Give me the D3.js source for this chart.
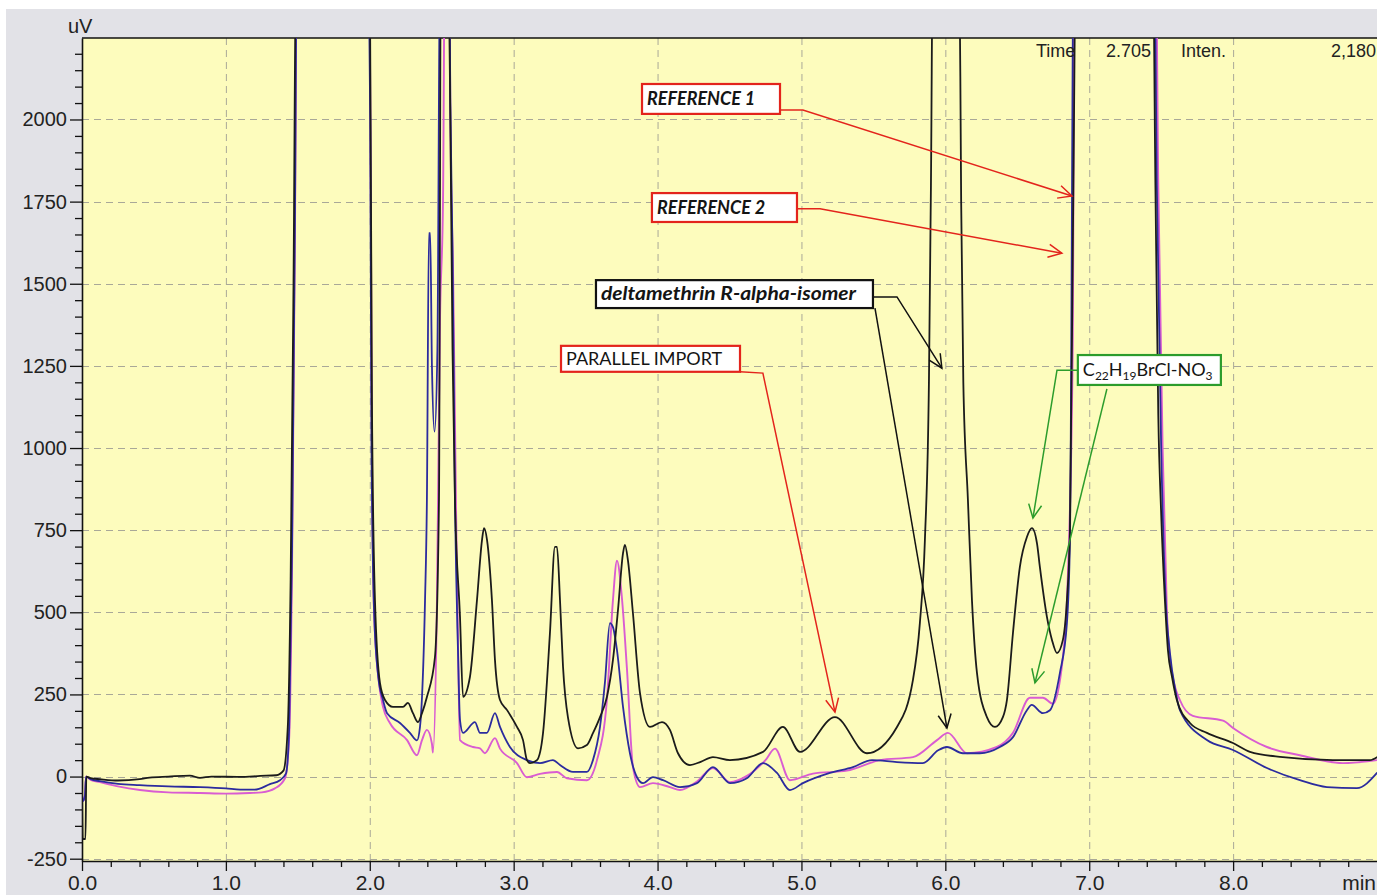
<!DOCTYPE html>
<html><head><meta charset="utf-8">
<script src="https://cdn.jsdelivr.net/npm/d3@7"></script>
<style>
html,body{margin:0;padding:0;background:#fff;}
svg{display:block;}
</style></head><body>
<svg id="chart" width="1377" height="895"></svg>
<script>
// Chromatogram traces: [retention time (min), signal (uV)]
const parallelImport = [
 [0.000,-40],[0.005,-190],[0.024,-190],[0.030,0],[0.060,-5],[0.125,-8],[0.250,-12],[0.400,-8],[0.470,-3],[0.600,0],[0.750,3],[0.820,-4],[0.900,0],[1.100,-1],[1.240,2],[1.350,4],[1.400,18],[1.430,150],[1.450,600],[1.470,1500],[1.490,2600],[1.990,2600],[2.001,2400],[2.015,1140],[2.036,537],[2.071,284],[2.106,233],[2.161,212],[2.231,212],[2.265,224],[2.300,193],[2.335,166],[2.363,193],[2.397,242],[2.453,364],[2.481,842],[2.495,2600],[2.540,2600],[2.560,2000],[2.575,1300],[2.592,842],[2.627,486],[2.648,243],[2.696,303],[2.745,537],[2.780,720],[2.794,756],[2.815,720],[2.849,537],[2.870,355],[2.905,233],[2.953,203],[3.023,151],[3.065,111],[3.092,50],[3.113,41],[3.162,50],[3.204,132],[3.252,436],[3.287,699],[3.301,699],[3.322,537],[3.343,334],[3.377,181],[3.447,86],[3.509,96],[3.551,132],[3.600,181],[3.648,242],[3.690,355],[3.725,507],[3.760,680],[3.773,705],[3.794,659],[3.829,497],[3.878,254],[3.947,151],[4.031,166],[4.086,142],[4.142,71],[4.225,35],[4.300,45],[4.385,59],[4.503,50],[4.733,75],[4.871,151],[4.990,75],[5.233,181],[5.455,71],[5.664,151],[5.775,294],[5.823,467],[5.858,720],[5.886,1200],[5.900,1800],[5.915,2600],[6.095,2600],[6.110,1750],[6.125,1200],[6.157,842],[6.185,537],[6.220,315],[6.289,181],[6.345,151],[6.400,181],[6.428,233],[6.470,437],[6.518,638],[6.567,729],[6.602,756],[6.637,710],[6.657,638],[6.706,486],[6.741,416],[6.776,376],[6.817,416],[6.845,537],[6.866,750],[6.890,1800],[6.910,2600],[7.440,2600],[7.460,1800],[7.480,1100],[7.500,800],[7.526,537],[7.547,385],[7.575,304],[7.609,233],[7.700,163],[7.818,133],[7.999,102],[8.117,75],[8.346,59],[8.693,50],[8.951,50],[9.000,59]
];
const reference1 = [
 [0.000,-50],[0.005,-75],[0.020,-60],[0.028,0],[0.060,-8],[0.125,-14],[0.250,-22],[0.400,-26],[0.600,-30],[0.820,-32],[1.000,-36],[1.100,-40],[1.200,-40],[1.306,-23],[1.376,-11],[1.418,10],[1.440,150],[1.460,700],[1.480,1700],[1.495,2600],[1.990,2600],[2.003,2000],[2.012,1000],[2.030,500],[2.060,300],[2.092,233],[2.120,193],[2.210,163],[2.279,133],[2.328,110],[2.349,151],[2.363,242],[2.384,537],[2.397,842],[2.411,1654],[2.420,1654],[2.432,1250],[2.450,1050],[2.470,1300],[2.490,2600],[2.550,2600],[2.560,2050],[2.575,1600],[2.592,842],[2.613,385],[2.627,172],[2.648,133],[2.731,166],[2.766,133],[2.814,133],[2.870,193],[2.905,151],[2.974,90],[3.092,50],[3.183,41],[3.273,50],[3.322,35],[3.412,14],[3.509,14],[3.551,50],[3.600,151],[3.634,285],[3.669,467],[3.690,455],[3.718,385],[3.760,212],[3.808,71],[3.857,-2],[3.899,-20],[3.968,-2],[4.038,-11],[4.156,-32],[4.274,-20],[4.385,29],[4.503,-20],[4.621,-5],[4.733,41],[4.830,11],[4.920,-41],[5.010,-20],[5.198,11],[5.358,29],[5.490,50],[5.664,44],[5.844,41],[5.950,80],[6.011,90],[6.122,71],[6.240,71],[6.379,90],[6.470,120],[6.567,202],[6.600,218],[6.678,193],[6.727,202],[6.796,315],[6.845,467],[6.866,720],[6.894,2600],[7.450,2600],[7.470,1800],[7.500,1000],[7.530,550],[7.560,380],[7.600,260],[7.630,202],[7.818,111],[7.999,81],[8.235,26],[8.464,-11],[8.652,-32],[8.860,-35],[9.000,11]
];
const reference2 = [
 [0.000,-50],[0.005,-75],[0.020,-60],[0.028,0],[0.060,-10],[0.125,-17],[0.250,-30],[0.403,-41],[0.600,-48],[0.820,-50],[1.000,-52],[1.167,-50],[1.250,-48],[1.341,-36],[1.411,-5],[1.440,120],[1.460,650],[1.480,1650],[1.495,2600],[1.990,2600],[2.005,1970],[2.015,1000],[2.030,500],[2.060,300],[2.092,212],[2.140,163],[2.259,111],[2.328,65],[2.363,111],[2.397,142],[2.432,100],[2.439,73],[2.467,537],[2.488,1390],[2.509,1755],[2.523,2600],[2.550,2600],[2.560,2000],[2.580,1500],[2.600,800],[2.615,350],[2.627,111],[2.717,90],[2.766,86],[2.800,71],[2.870,117],[2.905,85],[3.023,41],[3.092,-2],[3.183,8],[3.301,14],[3.370,-5],[3.509,-11],[3.579,50],[3.648,233],[3.690,537],[3.718,657],[3.752,545],[3.787,330],[3.829,29],[3.878,-32],[3.968,-20],[4.086,-32],[4.156,-41],[4.274,-15],[4.385,26],[4.503,-17],[4.621,2],[4.750,50],[4.816,85],[4.920,-11],[5.080,9],[5.316,18],[5.546,50],[5.775,59],[5.942,111],[6.018,133],[6.150,71],[6.358,90],[6.470,133],[6.588,240],[6.678,240],[6.748,222],[6.817,363],[6.852,617],[6.885,1300],[6.900,2600],[7.460,2600],[7.480,1800],[7.510,1000],[7.540,500],[7.570,330],[7.630,233],[7.720,185],[7.930,170],[7.999,148],[8.235,90],[8.464,65],[8.763,41],[9.000,50]
];

// Axis ticks
const timeTicks = [0,1,2,3,4,5,6,7,8];
const signalTicks = [-250,0,250,500,750,1000,1250,1500,1750,2000];

// Cursor read-out shown at the top of the plot
const readout = {timeLabel:"Time", time:"2.705", intenLabel:"Inten.", inten:"2,180"};

// Call-out boxes: box corners and leader lines in data units (min, uV)
const callouts = [
 {text:"REFERENCE 1", kind:"ref", color:"#e3241c", box:[3.892,2108,4.851,2017],
  leaders:[[[4.851,2029],[5.010,2029],[6.880,1767]]]},
 {text:"REFERENCE 2", kind:"ref", color:"#e3241c", box:[3.961,1776,4.969,1688],
  leaders:[[[4.969,1728],[5.129,1728],[6.810,1593]]]},
 {text:"deltamethrin R-alpha-isomer", kind:"ref", color:"#111111", box:[3.572,1511,5.497,1426], span:255,
  leaders:[[[5.497,1460],[5.664,1460],[5.976,1243]],[[5.511,1426],[6.011,148]]]},
 {text:"PARALLEL IMPORT", kind:"plain", color:"#e3241c", box:[3.329,1311,4.573,1232],
  leaders:[[[4.573,1232],[4.732,1228],[5.233,196]]]},
 {text:"formula", kind:"formula", color:"#2c9c2c", box:[6.921,1283,7.915,1192],
  leaders:[[[6.921,1237],[6.776,1237],[6.609,787]],[[7.123,1180],[6.623,285]]]}
];

const W = 1377, H = 895;
const svg = d3.select("#chart");

// window frame
svg.append("rect").attr("width", W).attr("height", H).attr("fill", "#ffffff");
svg.append("rect").attr("x", 6).attr("y", 9).attr("width", W - 6).attr("height", H - 9).attr("fill", "#e2e2e7");

const x = d3.scaleLinear().domain([0, 9]).range([82, 1377]);
const y = d3.scaleLinear().domain([-257, 2248]).range([861, 38]);

const [x0, x1] = x.range();
const [y0, y1] = y.range();

svg.append("rect").attr("x", x0).attr("y", y1).attr("width", x1 - x0).attr("height", y0 - y1).attr("fill", "#fdfcbd");

svg.append("clipPath").attr("id", "plotClip")
  .append("rect").attr("x", x0).attr("y", y1).attr("width", x1 - x0).attr("height", y0 - y1);

// dashed grid
const grid = svg.append("g").attr("stroke", "#a9a898").attr("stroke-width", 1).attr("stroke-dasharray", "7,5");
grid.selectAll("line.v").data(timeTicks.filter(d => d > 0)).join("line")
  .attr("x1", d => x(d) + 0.5).attr("x2", d => x(d) + 0.5).attr("y1", y1).attr("y2", y0);
grid.selectAll("line.h").data(signalTicks).join("line")
  .attr("x1", x0).attr("x2", x1).attr("y1", d => Math.round(y(d)) + 0.5).attr("y2", d => Math.round(y(d)) + 0.5);

// minor ticks
const minorY = d3.range(-250, 2201, 50).filter(d => d % 250 !== 0);
const minorX = d3.range(0, 9.01, 0.2).filter(d => Math.abs(d - Math.round(d)) > 1e-6);

const fontAxis = "'Liberation Sans', Arial, sans-serif";

const yAxis = svg.append("g").attr("transform", `translate(${x0},0)`)
  .call(d3.axisLeft(y).tickValues(signalTicks).tickSize(12).tickSizeOuter(0).tickPadding(3).tickFormat(d => String(d)));
svg.append("g").attr("transform", `translate(${x0},0)`)
  .call(d3.axisLeft(y).tickValues(minorY).tickSize(7).tickSizeOuter(0).tickFormat(""))
  .call(g => g.select(".domain").remove());

const xAxis = svg.append("g").attr("transform", `translate(0,${y0})`)
  .call(d3.axisBottom(x).tickValues(timeTicks).tickSize(10).tickSizeOuter(0).tickPadding(4).tickFormat(d3.format(".1f")));
svg.append("g").attr("transform", `translate(0,${y0})`)
  .call(d3.axisBottom(x).tickValues(minorX).tickSize(6).tickSizeOuter(0).tickFormat(""))
  .call(g => g.select(".domain").remove());

svg.selectAll(".tick line").attr("stroke", "#111").attr("stroke-width", 1.3);
svg.selectAll(".domain").attr("stroke", "#111").attr("stroke-width", 1.6);
yAxis.selectAll("text").attr("font-family", fontAxis).attr("font-size", 20).attr("fill", "#222");
xAxis.selectAll("text").attr("font-family", fontAxis).attr("font-size", 21).attr("fill", "#222");

// top border of the plot
svg.append("line").attr("x1", x0).attr("x2", x1).attr("y1", y1).attr("y2", y1)
  .attr("stroke", "#111").attr("stroke-width", 1.6);

svg.append("text").attr("x", 68).attr("y", 33).text("uV")
  .attr("font-family", fontAxis).attr("font-size", 20).attr("fill", "#222");
svg.append("text").attr("x", 1376).attr("y", 890).attr("text-anchor", "end").text("min")
  .attr("font-family", fontAxis).attr("font-size", 21).attr("fill", "#222");

// traces
const line = d3.line().curve(d3.curveMonotoneX).x(d => x(d[0])).y(d => y(d[1]));
const traces = svg.append("g").attr("clip-path", "url(#plotClip)").attr("fill", "none")
  .attr("stroke-linejoin", "round").attr("stroke-linecap", "round");
[[reference2, "#d95cd2", 1.9], [reference1, "#2b2b9e", 1.8], [parallelImport, "#1b1b1b", 1.8]]
  .forEach(([data, color, w]) => traces.append("path").datum(data).attr("d", line)
    .attr("stroke", color).attr("stroke-width", w));

// read-out text
const ro = svg.append("g").attr("font-family", fontAxis).attr("font-size", 18).attr("fill", "#222");
ro.append("text").attr("x", 1036).attr("y", 57).text(readout.timeLabel);
ro.append("text").attr("x", 1106).attr("y", 57).text(readout.time);
ro.append("text").attr("x", 1181).attr("y", 57).text(readout.intenLabel);
ro.append("text").attr("x", 1376).attr("y", 57).attr("text-anchor", "end").text(readout.inten);

// call-outs
const calloutFont = "Lato, 'Open Sans', sans-serif";
const ann = svg.append("g");
function arrowHead(g, p0, p1, color) {
  const ang = Math.atan2(p1[1] - p0[1], p1[0] - p0[0]);
  const len = 15, spread = 0.45;
  const a = [p1[0] - len * Math.cos(ang - spread), p1[1] - len * Math.sin(ang - spread)];
  const b = [p1[0] - len * Math.cos(ang + spread), p1[1] - len * Math.sin(ang + spread)];
  g.append("path").attr("d", `M${a[0]},${a[1]}L${p1[0]},${p1[1]}L${b[0]},${b[1]}`)
    .attr("fill", "none").attr("stroke", color).attr("stroke-width", 1.5);
}
callouts.forEach(c => {
  const g = ann.append("g");
  c.leaders.forEach(pts => {
    const px = pts.map(p => [x(p[0]), y(p[1])]);
    g.append("path").attr("d", d3.line()(px)).attr("fill", "none")
      .attr("stroke", c.color).attr("stroke-width", 1.5);
    arrowHead(g, px[px.length - 2], px[px.length - 1], c.color);
  });
  const bx = x(c.box[0]), by = y(c.box[1]), bw = x(c.box[2]) - bx, bh = y(c.box[3]) - by;
  g.append("rect").attr("x", bx).attr("y", by).attr("width", bw).attr("height", bh)
    .attr("fill", "#ffffff").attr("stroke", c.color).attr("stroke-width", 2.2);
  const t = g.append("text").attr("x", bx + 5).attr("y", by + bh / 2 + 6)
    .attr("font-family", calloutFont).attr("fill", "#141414");
  if (c.kind === "ref") {
    t.attr("font-weight", "bold").attr("font-style", "italic").attr("font-size", c.span ? 19 : 18).text(c.text);
    if (c.span) t.attr("textLength", c.span).attr("lengthAdjust", "spacingAndGlyphs");
  } else if (c.kind === "plain") {
    t.attr("font-size", 18).text(c.text);
  } else {
    t.attr("font-size", 18);
    const parts = [["C",0],["22",1],["H",0],["19",1],["BrCl-NO",0],["3",1]];
    parts.forEach(([s, sub], i) => {
      const prevSub = i > 0 && parts[i - 1][1];
      const ts = t.append("tspan").text(s).attr("dy", sub ? 4 : (prevSub ? -4 : 0));
      if (sub) ts.attr("font-size", 12);
    });
  }
});
</script>
</body></html>
